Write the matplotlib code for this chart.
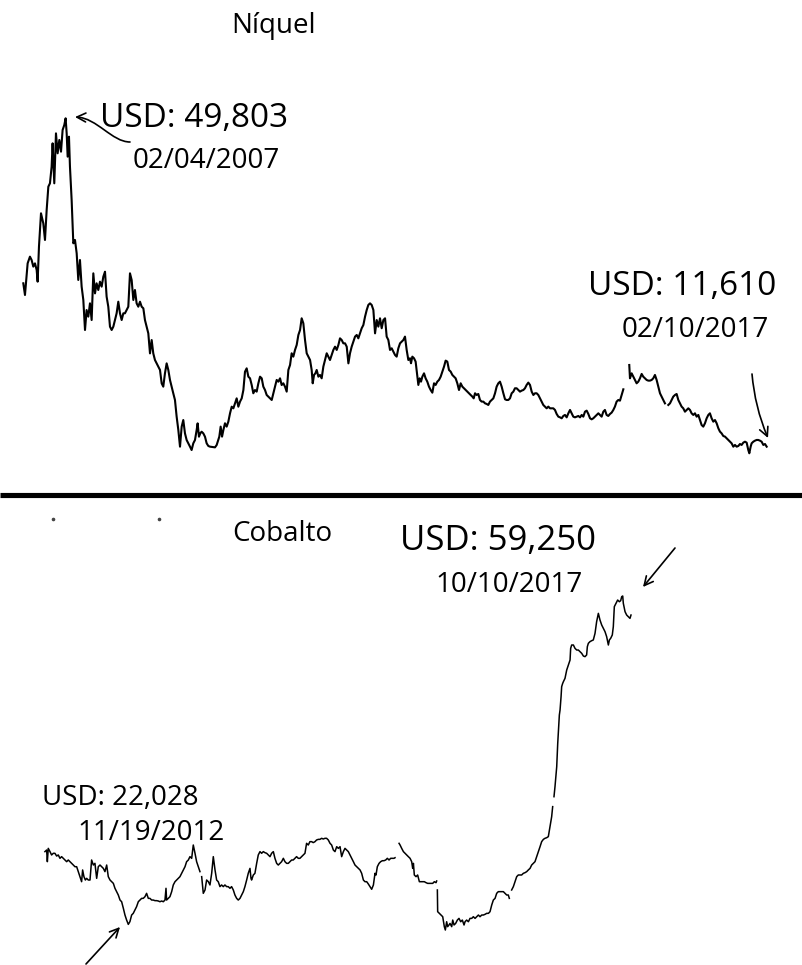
import numpy as np
import matplotlib
matplotlib.use("Agg")
import matplotlib.pyplot as plt
from matplotlib.lines import Line2D
from matplotlib.patches import FancyArrowPatch
from matplotlib.path import Path

plt.rcParams['font.family'] = ['Open Sans', 'DejaVu Sans']

nan = np.nan

# ---------------- Nickel (USD thousands per tonne), decimal years ----------------
nickel_years = [
    2006.484, 2006.508, 2006.546, 2006.579, 2006.603, 2006.627, 2006.651, 2006.675, 2006.689, 2006.708,
    2006.737, 2006.770, 2006.794, 2006.818, 2006.842, 2006.865, 2006.889, 2006.903, 2006.927, 2006.951,
    2006.975, 2006.999, 2007.023, 2007.046, 2007.070, 2007.089, 2007.104, 2007.118, 2007.137, 2007.151,
    2007.175, 2007.199, 2007.223, 2007.247, 2007.270, 2007.294, 2007.318, 2007.342, 2007.366, 2007.389,
    2007.413, 2007.437, 2007.461, 2007.485, 2007.509, 2007.532, 2007.556, 2007.580, 2007.604, 2007.628,
    2007.652, 2007.675, 2007.699, 2007.723, 2007.747, 2007.771, 2007.795, 2007.818, 2007.842, 2007.866,
    2007.890, 2007.914, 2007.937, 2007.961, 2007.985, 2008.009, 2008.033, 2008.057, 2008.080, 2008.104,
    2008.128, 2008.152, 2008.176, 2008.200, 2008.223, 2008.247, 2008.271, 2008.295, 2008.319, 2008.342,
    2008.366, 2008.390, 2008.414, 2008.438, 2008.462, 2008.485, 2008.509, 2008.533, 2008.557, 2008.581,
    2008.604, 2008.628, 2008.652, 2008.676, 2008.700, 2008.724, 2008.748, 2008.771, 2008.795, 2008.819,
    2008.843, 2008.867, 2008.890, 2008.914, 2008.938, 2008.962, 2008.976, 2008.995, 2009.014, 2009.033,
    2009.057, 2009.081, 2009.105, 2009.129,
    2009.153, 2009.224, 2009.248, 2009.286, 2009.305, 2009.325, 2009.344, 2009.367, 2009.391, 2009.415,
    2009.439, 2009.463, 2009.487, 2009.510, 2009.534, 2009.558, 2009.582, 2009.606, 2009.630, 2009.653,
    2009.677, 2009.701, 2009.725, 2009.749, 2009.772, 2009.796, 2009.820, 2009.844, 2009.868, 2009.892,
    2009.915, 2009.939, 2009.963, 2009.987, 2010.011, 2010.035, 2010.058, 2010.082, 2010.106, 2010.130,
    2010.154, 2010.177, 2010.201, 2010.225, 2010.249, 2010.273, 2010.297, 2010.320, 2010.344, 2010.368,
    2010.392, 2010.416, 2010.440, 2010.463, 2010.487, 2010.511, 2010.535, 2010.559, 2010.583, 2010.606,
    2010.621, 2010.640, 2010.659, 2010.678, 2010.702, 2010.725, 2010.749, 2010.773, 2010.797, 2010.821,
    2010.845, 2010.868, 2010.892, 2010.916, 2010.940, 2010.964, 2010.988, 2011.011, 2011.035, 2011.059,
    2011.083, 2011.107, 2011.131, 2011.154, 2011.178, 2011.202, 2011.226, 2011.250, 2011.273, 2011.297,
    2011.321, 2011.345, 2011.369, 2011.393, 2011.416, 2011.440, 2011.464, 2011.488, 2011.512, 2011.536,
    2011.559, 2011.583, 2011.607, 2011.631, 2011.655, 2011.678, 2011.702, 2011.726, 2011.750, 2011.774,
    2011.798, 2011.821, 2011.845, 2011.869, 2011.893, 2011.917, 2011.940, 2011.964, 2011.988, 2012.012,
    2012.026, 2012.045, 2012.069, 2012.092, 2012.112, 2012.131, 2012.150, 2012.169, 2012.188, 2012.212,
    2012.235, 2012.259, 2012.283, 2012.307, 2012.331, 2012.355, 2012.378, 2012.402, 2012.426, 2012.450,
    2012.474, 2012.498, 2012.521, 2012.545, 2012.569, 2012.593, 2012.617, 2012.640, 2012.664, 2012.688,
    2012.712, 2012.736, 2012.760, 2012.783, 2012.807, 2012.831, 2012.855, 2012.879, 2012.903, 2012.922,
    2012.941, 2012.964, 2012.988, 2013.012, 2013.036, 2013.060, 2013.084, 2013.107, 2013.131, 2013.155,
    2013.179, 2013.203, 2013.227, 2013.250, 2013.274, 2013.298, 2013.322, 2013.346, 2013.370, 2013.393,
    2013.417, 2013.441, 2013.465, 2013.489, 2013.512, 2013.536, 2013.560, 2013.584, 2013.608, 2013.632,
    2013.655, 2013.679, 2013.703, 2013.727, 2013.751, 2013.775, 2013.798, 2013.822, 2013.846, 2013.870,
    2013.894, 2013.917, 2013.941, 2013.965, 2013.989, 2014.013, 2014.037, 2014.060, 2014.084, 2014.108,
    2014.132, 2014.156, 2014.180, 2014.203, 2014.227, 2014.251, 2014.275, 2014.299, 2014.323, 2014.346,
    2014.370, 2014.394, 2014.418, 2014.442, 2014.466, 2014.489, 2014.513, 2014.537, 2014.561, 2014.585,
    2014.608, 2014.632, 2014.656, 2014.680, 2014.704,
    2014.727, 2014.751, 2014.775, 2014.798, 2014.822, 2014.846, 2014.870, 2014.894, 2014.918, 2014.941,
    2014.965, 2014.989, 2015.013, 2015.037, 2015.061, 2015.100,
    2015.146, 2015.156, 2015.180, 2015.204, 2015.227, 2015.251, 2015.275, 2015.299, 2015.323, 2015.346,
    2015.370, 2015.394, 2015.418, 2015.442, 2015.466, 2015.489, 2015.513, 2015.537, 2015.561, 2015.585,
    2015.608, 2015.632, 2015.656, 2015.680,
    2015.704, 2015.728, 2015.751, 2015.775, 2015.799, 2015.823, 2015.847, 2015.871, 2015.894, 2015.918,
    2015.942, 2015.966, 2015.990, 2016.014, 2016.037, 2016.061, 2016.085, 2016.109, 2016.133, 2016.157,
    2016.180, 2016.204, 2016.228, 2016.252, 2016.276, 2016.299, 2016.323, 2016.347, 2016.371, 2016.395,
    2016.419, 2016.442, 2016.466, 2016.490, 2016.514, 2016.538, 2016.562, 2016.585, 2016.609, 2016.633,
    2016.657, 2016.681, 2016.705, 2016.728, 2016.752, 2016.776, 2016.800, 2016.824, 2016.847, 2016.862,
    2016.881, 2016.895, 2016.919, 2016.943, 2016.967, 2016.990, 2017.014, 2017.038, 2017.062, 2017.086,
    2017.110,
]
nickel_kusd = [
    30.61, 29.25, 32.93, 33.71, 33.32, 32.55, 32.93, 32.16, 30.80, 34.87,
    38.75, 37.58, 35.65, 39.14, 41.85, 42.24, 44.18, 46.89, 42.24, 48.05,
    45.73, 47.28, 45.92, 48.44, 49.02, 49.80, 48.05, 45.34, 47.66, 44.18,
    40.30, 35.26, 35.65, 34.10, 31.00, 33.32, 30.22, 28.67, 25.18, 27.50,
    26.73, 28.28, 26.34, 31.77, 29.44, 30.61, 29.83, 30.80, 30.22, 31.38,
    31.96, 29.06, 27.89, 25.57, 25.18, 25.57, 26.34, 27.12, 28.47, 27.12,
    26.34, 27.12, 27.12, 27.50, 27.89, 31.77, 30.99, 28.67, 29.83, 28.28,
    27.89, 28.47, 27.89, 27.70, 26.34, 25.57, 24.79, 22.46, 24.01, 22.46,
    21.69, 21.30, 20.91, 20.53, 18.97, 18.59, 20.14, 21.30, 20.53, 19.36,
    18.59, 17.81, 17.04, 15.10, 13.55, 11.61, 13.94, 14.71, 13.16, 12.38,
    12.00, 11.61, 11.22, 12.00, 12.38, 13.55, 14.32, 12.77, 13.16, 13.35,
    13.16, 12.77, 12.00, 11.69,
    11.61, 11.53, 11.80, 12.78, 13.94, 12.78, 13.55, 14.33, 13.94, 14.52,
    15.49, 16.26, 16.07, 16.65, 17.23, 16.26, 16.85, 17.23, 18.20, 20.33,
    20.72, 19.75, 19.56, 18.78, 17.82, 18.20, 18.01, 18.98, 19.75, 19.56,
    18.59, 18.20, 17.62, 17.43, 17.23, 17.04, 17.82, 18.59, 19.37, 19.17,
    19.56, 18.78, 18.98, 18.59, 18.01, 20.53, 21.11, 22.47, 22.08, 22.86,
    23.44, 24.60, 25.18, 26.54, 25.96, 24.02, 22.47, 22.08, 21.69, 20.53,
    18.98, 19.95, 20.14, 20.53, 19.75, 19.95, 19.56, 20.92, 21.69, 22.47,
    22.08, 21.69, 22.27, 22.86, 23.24, 22.86, 23.44, 24.21, 24.02, 23.63,
    23.63, 23.24, 21.30, 22.47, 23.24, 23.82, 24.41, 24.60, 24.21, 24.79,
    25.38, 25.76, 26.73, 27.51, 28.09, 28.28, 28.09, 27.51, 24.79, 26.34,
    25.57, 26.54, 25.38, 26.34, 26.54, 24.41, 24.02, 22.86, 23.05, 22.66,
    22.27, 22.08, 23.05, 23.63, 23.82, 24.02, 24.41, 22.86, 21.69, 21.89,
    21.31, 22.08, 21.89, 21.50, 20.14, 18.79, 19.56, 19.17, 19.75, 20.14,
    19.56, 19.17, 18.59, 18.20, 17.89, 18.98, 18.79, 19.17, 19.37, 19.75,
    20.34, 20.92, 21.62, 21.50, 20.53, 20.34, 19.95, 19.75, 19.56, 18.98,
    18.20, 18.98, 18.59, 18.40, 18.20, 18.01, 17.82, 17.62, 17.43, 17.23,
    17.82, 17.62, 17.74, 17.04, 16.85, 16.85, 16.65, 16.58, 16.46, 16.85,
    17.04, 17.23, 17.82, 18.59, 18.98, 19.17, 18.59, 17.82, 17.12, 17.04,
    17.04, 17.23, 17.82, 18.01, 18.40, 18.40, 18.20, 18.01, 18.13, 18.20,
    18.40, 18.79, 19.06, 18.79, 18.01, 17.62, 17.82, 17.82, 17.62, 17.23,
    16.85, 16.46, 16.27, 16.07, 16.27, 16.07, 16.07, 16.07, 15.88, 15.41,
    15.10, 15.02, 14.91, 15.18, 15.30, 15.02, 15.49, 15.88, 15.49, 15.10,
    15.02, 15.10, 15.18, 15.02, 15.30, 15.10, 15.68, 15.80, 15.41, 14.91,
    14.79, 14.91, 15.10, 15.30, 15.49,
    15.30, 15.10, 15.68, 15.88, 15.30, 15.18, 15.41, 15.57, 15.88, 16.27,
    16.85, 17.04, 16.96, 17.62, 18.28, nan,
    21.11, 19.56, 20.14, 19.75, 19.37, 18.98, 19.17, 19.56, 20.07, 19.75,
    19.56, 19.37, 19.29, 19.29, 19.37, 19.56, 19.95, 19.37, 18.59, 17.82,
    17.43, 17.04, 16.65, nan,
    16.46, 16.65, 17.04, 17.43, 17.62, 17.74, 17.04, 16.65, 16.27, 16.07,
    15.68, 15.88, 16.07, 15.88, 15.49, 15.30, 15.49, 15.10, 15.30, 14.71,
    14.13, 13.94, 14.33, 14.91, 15.30, 15.49, 14.91, 14.52, 14.71, 14.33,
    13.75, 13.36, 13.16, 12.85, 12.78, 12.58, 12.39, 12.19, 12.00, 11.61,
    11.81, 11.61, 11.69, 11.92, 11.81, 12.08, 12.19, 12.08, 11.23, 10.84,
    11.61, 12.00, 12.19, 12.31, 12.39, 12.39, 12.31, 12.19, 11.81, 11.92,
    11.61,
]

# ---------------- Cobalt (USD thousands per tonne), decimal years ----------------
cobalt_years = [
    2012.058, 2012.075, 2012.082, 2012.091, 2012.108, 2012.124, 2012.141, 2012.157, 2012.174, 2012.190,
    2012.207, 2012.223, 2012.240, 2012.256, 2012.273, 2012.289, 2012.306, 2012.322, 2012.339, 2012.355,
    2012.372, 2012.388, 2012.405, 2012.421, 2012.431, 2012.444, 2012.458, 2012.471, 2012.487, 2012.504,
    2012.520, 2012.537, 2012.553, 2012.570, 2012.586, 2012.603, 2012.619, 2012.636, 2012.652, 2012.669,
    2012.685, 2012.702, 2012.718, 2012.735, 2012.751, 2012.768, 2012.784, 2012.801, 2012.817, 2012.834,
    2012.850, 2012.866, 2012.883, 2012.899, 2012.916, 2012.932, 2012.949, 2012.965, 2012.982, 2012.998,
    2013.015, 2013.031, 2013.048, 2013.064, 2013.081, 2013.097, 2013.114, 2013.130, 2013.147, 2013.163,
    2013.180, 2013.196, 2013.213, 2013.229, 2013.246, 2013.256, 2013.262, 2013.279, 2013.295, 2013.312,
    2013.328, 2013.345, 2013.361, 2013.378, 2013.394, 2013.411, 2013.427, 2013.444, 2013.460, 2013.477,
    2013.493, 2013.510, 2013.526, 2013.543, 2013.559, 2013.576, 2013.592, 2013.600,
    2013.609, 2013.625, 2013.642, 2013.658, 2013.675, 2013.691, 2013.708, 2013.724, 2013.741, 2013.757,
    2013.773, 2013.790, 2013.806, 2013.823, 2013.839, 2013.856, 2013.872, 2013.889, 2013.905, 2013.922,
    2013.938, 2013.955, 2013.971, 2013.988, 2014.004, 2014.021, 2014.037, 2014.054, 2014.070, 2014.087,
    2014.097, 2014.103, 2014.120, 2014.136, 2014.153, 2014.169, 2014.186, 2014.202, 2014.219, 2014.235,
    2014.252, 2014.268, 2014.285, 2014.301, 2014.318, 2014.334, 2014.351, 2014.367, 2014.384, 2014.400,
    2014.417, 2014.433, 2014.450, 2014.466, 2014.483, 2014.499, 2014.515, 2014.532, 2014.548, 2014.565,
    2014.581, 2014.598, 2014.614, 2014.631, 2014.647, 2014.664, 2014.680, 2014.697, 2014.713, 2014.730,
    2014.746, 2014.763, 2014.779, 2014.796, 2014.812, 2014.829, 2014.845, 2014.862,
    2014.879, 2014.895, 2014.912, 2014.928, 2014.945, 2014.961, 2014.978, 2014.994, 2015.011, 2015.027,
    2015.044, 2015.060, 2015.077, 2015.093, 2015.110, 2015.126, 2015.143, 2015.159, 2015.176, 2015.192,
    2015.209, 2015.225, 2015.242, 2015.258, 2015.275, 2015.291, 2015.308, 2015.324, 2015.334, 2015.347,
    2015.364, 2015.380, 2015.397, 2015.413, 2015.430, 2015.446, 2015.463, 2015.479, 2015.496, 2015.512,
    2015.522, 2015.540,
    2015.562, 2015.572, 2015.588, 2015.605, 2015.621, 2015.638, 2015.654, 2015.671, 2015.687, 2015.697,
    2015.704, 2015.713, 2015.730, 2015.746, 2015.763, 2015.779, 2015.796, 2015.812, 2015.829, 2015.845,
    2015.862, 2015.878, 2015.895, 2015.911, 2015.928, 2015.934, 2015.938,
    2015.941, 2015.944, 2015.961, 2015.977, 2015.994, 2016.010, 2016.020, 2016.033, 2016.043, 2016.056,
    2016.066, 2016.083, 2016.093, 2016.106, 2016.122, 2016.139, 2016.155, 2016.172, 2016.188, 2016.205,
    2016.215, 2016.231, 2016.248, 2016.264, 2016.281, 2016.297, 2016.314, 2016.330, 2016.347, 2016.363,
    2016.380, 2016.396, 2016.413, 2016.429, 2016.446, 2016.462, 2016.479, 2016.495, 2016.512, 2016.528,
    2016.544, 2016.561, 2016.577, 2016.594, 2016.610, 2016.627, 2016.643, 2016.653, 2016.665,
    2016.676, 2016.693, 2016.709, 2016.726, 2016.742, 2016.759, 2016.775, 2016.792, 2016.808, 2016.825,
    2016.841, 2016.858, 2016.874, 2016.891, 2016.907, 2016.924, 2016.940, 2016.957, 2016.973, 2016.990,
    2017.006, 2017.023, 2017.039,
    2017.056, 2017.072, 2017.082, 2017.088,
    2017.095, 2017.105, 2017.122, 2017.132, 2017.141, 2017.148, 2017.155, 2017.165, 2017.171, 2017.181,
    2017.188, 2017.204, 2017.221, 2017.237, 2017.254, 2017.260, 2017.270, 2017.287, 2017.303, 2017.320,
    2017.336, 2017.353, 2017.369, 2017.386, 2017.402, 2017.418, 2017.425, 2017.435, 2017.451, 2017.468,
    2017.484, 2017.501, 2017.517, 2017.534, 2017.550, 2017.567, 2017.583, 2017.600, 2017.616, 2017.633,
    2017.643, 2017.656, 2017.672, 2017.682, 2017.692, 2017.709, 2017.725, 2017.742, 2017.755, 2017.765,
    2017.775, 2017.781, 2017.798, 2017.814, 2017.831, 2017.847, 2017.857,
]
cobalt_kusd = [
    30.27, 30.45, 29.13, 30.64, 30.27, 29.89, 30.08, 30.08, 29.77, 29.89,
    29.51, 29.70, 29.51, 29.32, 29.13, 29.32, 29.13, 28.94, 28.75, 28.56,
    28.56, 28.00, 27.43, 26.86, 28.19, 27.43, 27.05, 27.24, 27.05, 27.05,
    29.32, 28.75, 28.94, 27.24, 28.56, 28.75, 28.56, 28.37, 28.00, 28.75,
    27.43, 27.05, 26.86, 26.67, 26.11, 25.73, 25.35, 24.78, 24.59, 23.84,
    23.08, 22.52, 22.02, 22.33, 23.08, 23.27, 23.65, 24.03, 24.59, 24.78,
    24.97, 24.97, 25.16, 25.54, 24.97, 24.97, 24.78, 24.78, 24.71, 24.71,
    24.67, 24.59, 24.67, 24.59, 24.78, 26.11, 24.78, 24.97, 25.16, 25.73,
    26.49, 26.86, 27.05, 27.24, 27.43, 27.81, 28.19, 28.56, 29.13, 29.32,
    29.70, 29.51, 31.02, 30.08, 29.13, 28.56, 28.00, nan,
    27.43, 25.54, 25.92, 27.05, 26.86, 26.49, 27.81, 29.70, 28.19, 27.05,
    26.86, 26.30, 26.49, 26.30, 26.49, 26.30, 26.30, 26.11, 26.30, 25.92,
    25.35, 24.97, 24.78, 24.97, 25.35, 25.73, 26.30, 27.05, 27.81, 28.37,
    27.24, 27.05, 27.62, 27.81, 28.94, 29.89, 30.27, 30.08, 30.27, 30.15,
    30.08, 29.89, 29.70, 30.08, 30.27, 29.51, 28.94, 28.75, 28.94, 29.13,
    29.51, 29.13, 28.94, 28.94, 29.13, 29.32, 29.32, 29.51, 29.70, 29.51,
    29.51, 29.70, 29.89, 30.08, 31.21, 31.02, 31.40, 31.40, 31.29, 31.40,
    31.59, 31.66, 31.66, 31.78, 31.70, 31.78, 31.78, 31.59,
    31.21, 31.02, 30.45, 30.27, 30.83, 30.64, 30.83, 29.70, 30.27, 30.64,
    30.45, 30.27, 29.89, 29.51, 29.13, 28.75, 28.56, 28.37, 28.19, 27.81,
    27.05, 26.86, 26.86, 26.60, 26.30, 26.00, 26.48, 27.81, 27.62, 28.56,
    28.94, 29.13, 29.24, 29.24, 29.32, 29.51, 29.32, 29.51, 29.51, 29.51,
    29.58, nan,
    31.21, 31.02, 30.64, 30.27, 30.08, 29.89, 29.70, 29.51, 29.13, 28.37,
    28.94, 27.62, 27.43, 27.62, 26.86, 26.86, 26.86, 26.86, 26.75, 26.67,
    26.67, 26.67, 26.67, 26.86, 26.75, 26.94, nan,
    25.92, 23.46, 23.27, 23.08, 22.89, 21.76, 21.38, 22.32, 21.76, 21.95,
    22.13, 21.76, 22.51, 21.95, 22.13, 22.51, 22.70, 22.32, 22.51, 21.95,
    22.32, 22.51, 22.32, 22.70, 22.70, 22.89, 22.70, 22.89, 23.08, 22.89,
    23.08, 23.08, 23.16, 23.27, 23.27, 23.46, 24.22, 24.78, 24.97, 25.54,
    25.73, 25.73, 25.73, 25.73, 25.54, 25.35, 25.35, 24.97, nan,
    25.92, 26.30, 26.86, 27.43, 27.62, 27.62, 27.62, 27.81, 27.88, 28.00,
    28.19, 28.37, 28.75, 28.94, 29.13, 29.70, 30.27, 30.83, 31.40, 31.66,
    31.78, 31.85, 31.97,
    33.10, 34.23, 35.37, nan,
    36.50, 37.64, 39.90, 42.55, 44.44, 45.76, 46.33, 47.84, 48.98, 49.35,
    49.54, 49.92, 50.87, 51.43, 52.00, 53.32, 53.70, 53.70, 53.32, 53.13,
    53.13, 52.94, 52.76, 52.45, 52.38, 52.57, 53.51, 53.89, 54.08, 54.19,
    54.27, 55.02, 56.35, 57.29, 56.54, 55.97, 55.59, 55.21, 54.65, 53.70,
    54.27, 54.46, 54.84, 55.78, 58.05, 58.43, 58.80, 58.61, 58.73, 59.18,
    59.26, 58.43, 57.48, 57.10, 56.91, 56.72, 57.10,
]

titles = ["Níquel", "Cobalto"]
nickel_notes = [("USD: 49,803", "02/04/2007"), ("USD: 11,610", "02/10/2017")]
cobalt_notes = [("USD: 59,250", "10/10/2017"), ("USD: 22,028", "11/19/2012")]

# ---------------- Figure ----------------
W, H = 802, 965
fig = plt.figure(figsize=(W / 100, H / 100), dpi=100)
fig.patch.set_facecolor("white")

def P(x, y):
    return (x / W, 1 - y / H)

split = 490
ax1 = fig.add_axes([0, 1 - split / H, 1, split / H])
ax2 = fig.add_axes([0, 0, 1, 1 - split / H])
for ax in (ax1, ax2):
    ax.set_axis_off()

ax1.plot(nickel_years, nickel_kusd, color="black", lw=1.5)
ax1.set_xlim(2006.151, 2017.615)
ax1.set_ylim(6.57, 63.56)

ax2.plot(cobalt_years, cobalt_kusd, color="black", lw=1.1)
ax2.set_xlim(2011.6135, 2019.549)
ax2.set_ylim(17.413, 71.278)

# titles
fig.text(*P(274, 33), titles[0], ha="center", va="baseline", fontsize=20)
fig.text(*P(232, 541), titles[1], ha="left", va="baseline", fontsize=20)

# nickel annotations
fig.text(*P(100, 127), nickel_notes[0][0], ha="left", va="baseline", fontsize=24)
fig.text(*P(133, 168), nickel_notes[0][1], ha="left", va="baseline", fontsize=20)
fig.text(*P(588, 295), nickel_notes[1][0], ha="left", va="baseline", fontsize=24)
fig.text(*P(622, 337), nickel_notes[1][1], ha="left", va="baseline", fontsize=20)

# cobalt annotations
fig.text(*P(400, 550), cobalt_notes[0][0], ha="left", va="baseline", fontsize=25)
fig.text(*P(435, 592), cobalt_notes[0][1], ha="left", va="baseline", fontsize=20)
fig.text(*P(42, 805), cobalt_notes[1][0], ha="left", va="baseline", fontsize=20)
fig.text(*P(77, 840), cobalt_notes[1][1], ha="left", va="baseline", fontsize=20)

def arrow(tail, head, rad=0.0):
    ax1.annotate("", xy=P(*head), xycoords="figure fraction",
                 xytext=P(*tail), textcoords="figure fraction",
                 arrowprops=dict(arrowstyle="->", lw=1.2, color="black",
                                 shrinkA=0, shrinkB=0, mutation_scale=16,
                                 connectionstyle=f"arc3,rad={rad}"),
                 annotation_clip=False)

# S-shaped arrow to the nickel peak
s_path = Path([P(130, 142), P(112, 142), P(97, 118), P(75, 117)],
              [Path.MOVETO, Path.CURVE4, Path.CURVE4, Path.CURVE4])
fig.add_artist(FancyArrowPatch(path=s_path, arrowstyle="->", lw=1.2, color="black",
                               mutation_scale=16, transform=fig.transFigure))

arrow((752, 374), (768, 438), rad=0.08)
arrow((675, 548), (643, 587))
arrow((86, 964), (120, 927))

# separator
fig.add_artist(Line2D([0, 1], [1 - 495.5 / H] * 2, transform=fig.transFigure,
                      color="black", lw=3.7, solid_capstyle="butt"))
# specks
for sx in (52.7, 159.3):
    fig.add_artist(Line2D([sx / W], [1 - 519.3 / H], transform=fig.transFigure,
                          marker="o", ms=1.6, color="#444444", lw=0))

fig.savefig("out.png", dpi=100, facecolor="white")
